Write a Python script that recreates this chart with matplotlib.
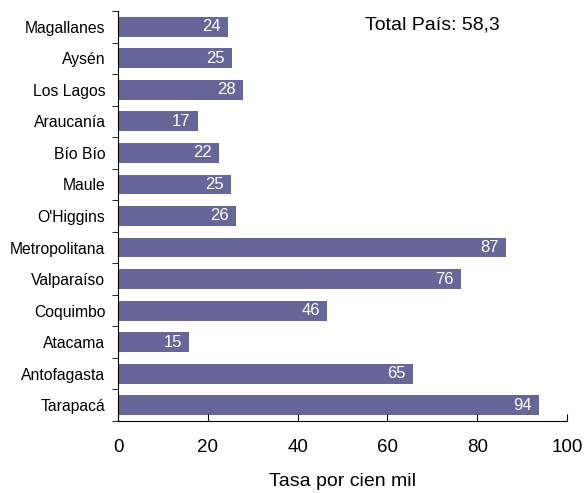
import numpy as np
import matplotlib.pyplot as plt

plt.rcParams['font.family'] = ['Liberation Sans', 'DejaVu Sans']

# regiones de arriba hacia abajo
regions = ["Magallanes", "Aysén", "Los Lagos", "Araucanía", "Bío Bío", "Maule",
           "O'Higgins", "Metropolitana", "Valparaíso", "Coquimbo", "Atacama",
           "Antofagasta", "Tarapacá"]
rates = [24.5, 25.4, 27.8, 17.8, 22.5, 25.2, 26.3, 86.5, 76.3, 46.6, 15.8, 65.6, 93.7]
labels = ["24", "25", "28", "17", "22", "25", "26", "87", "76", "46", "15", "65", "94"]
total_text = "Total País: 58,3"

fig = plt.figure(figsize=(5.85, 4.93), dpi=100)
ax = fig.add_axes([118/585, 72/493, 449/585, 410/493])

y = np.arange(len(regions))
ax.barh(y, rates, height=0.63, color='#666699')
for yi, v, lab in zip(y, rates, labels):
    ax.text(v - 1.6, yi, lab, color='white', ha='right', va='center', fontsize=12)

ax.set_ylim(len(regions) - 0.5, -0.5)
ax.set_xlim(0, 100)
ax.set_xticks(np.arange(0, 101, 20))
ax.tick_params(axis='x', direction='in', length=5, labelsize=13.5, pad=13)
ax.set_yticks(y)
ax.set_yticklabels(regions)
ax.set_yticks(np.arange(-0.5, len(regions), 1), minor=True)
ax.tick_params(axis='y', which='major', length=0, labelsize=11.3, pad=9)
ax.tick_params(axis='y', which='minor', length=4, direction='out')
for s in ['top', 'right']:
    ax.spines[s].set_visible(False)
ax.set_xlabel("Tasa por cien mil", fontsize=14, labelpad=12)
ax.text(0.70, 0.966, total_text, transform=ax.transAxes, ha='center', va='center', fontsize=14)

plt.savefig("out.png")
